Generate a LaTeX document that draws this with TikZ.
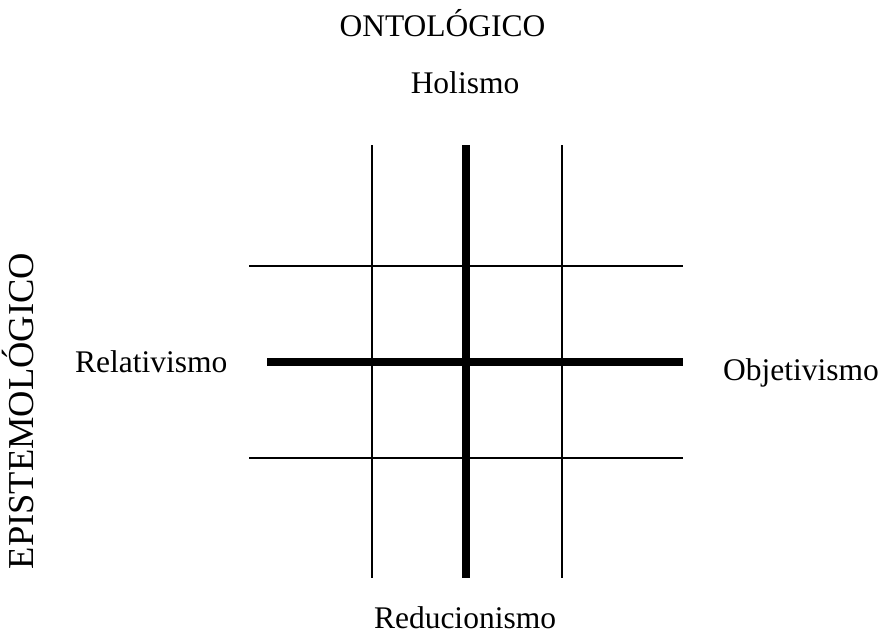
\documentclass[tikz,border=0pt]{standalone}
\usepackage{fontspec}
\setmainfont{Liberation Serif}
\begin{document}
\begin{tikzpicture}[x=1pt,y=-1pt,
  lbl/.style={inner sep=0pt,font=\fontsize{31.5}{36}\selectfont},
  thin line/.style={line width=1.6pt,black},
  thick line/.style={line width=7.5pt,black}]
\useasboundingbox (0,0) rectangle (885,635);
% grid
\draw[thin line] (372,145) -- (372,578);
\draw[thin line] (562,145) -- (562,578);
\draw[thin line] (249,266) -- (683,266);
\draw[thin line] (249,458) -- (683,458);
\draw[thick line] (267,362) -- (683,362);
\draw[thick line] (466,145) -- (466,578);
% labels
\node[lbl,anchor=base] (onto) at (442.5,36) {ONTOLÓGICO};
\node[lbl,anchor=base] (hol) at (465,93) {Holismo};
\node[lbl,anchor=base] (red) at (465,628) {Reducionismo};
\node[lbl,anchor=base west] (rel) at (75,372) {Relativismo};
\node[lbl,anchor=base west] (obj) at (723,380) {Objetivismo};
\node[inner sep=0pt,font=\fontsize{36.5}{40}\selectfont,rotate=90,anchor=base] (epi) at (33,411) {EPISTEMOLÓGICO};
\end{tikzpicture}
\end{document}
